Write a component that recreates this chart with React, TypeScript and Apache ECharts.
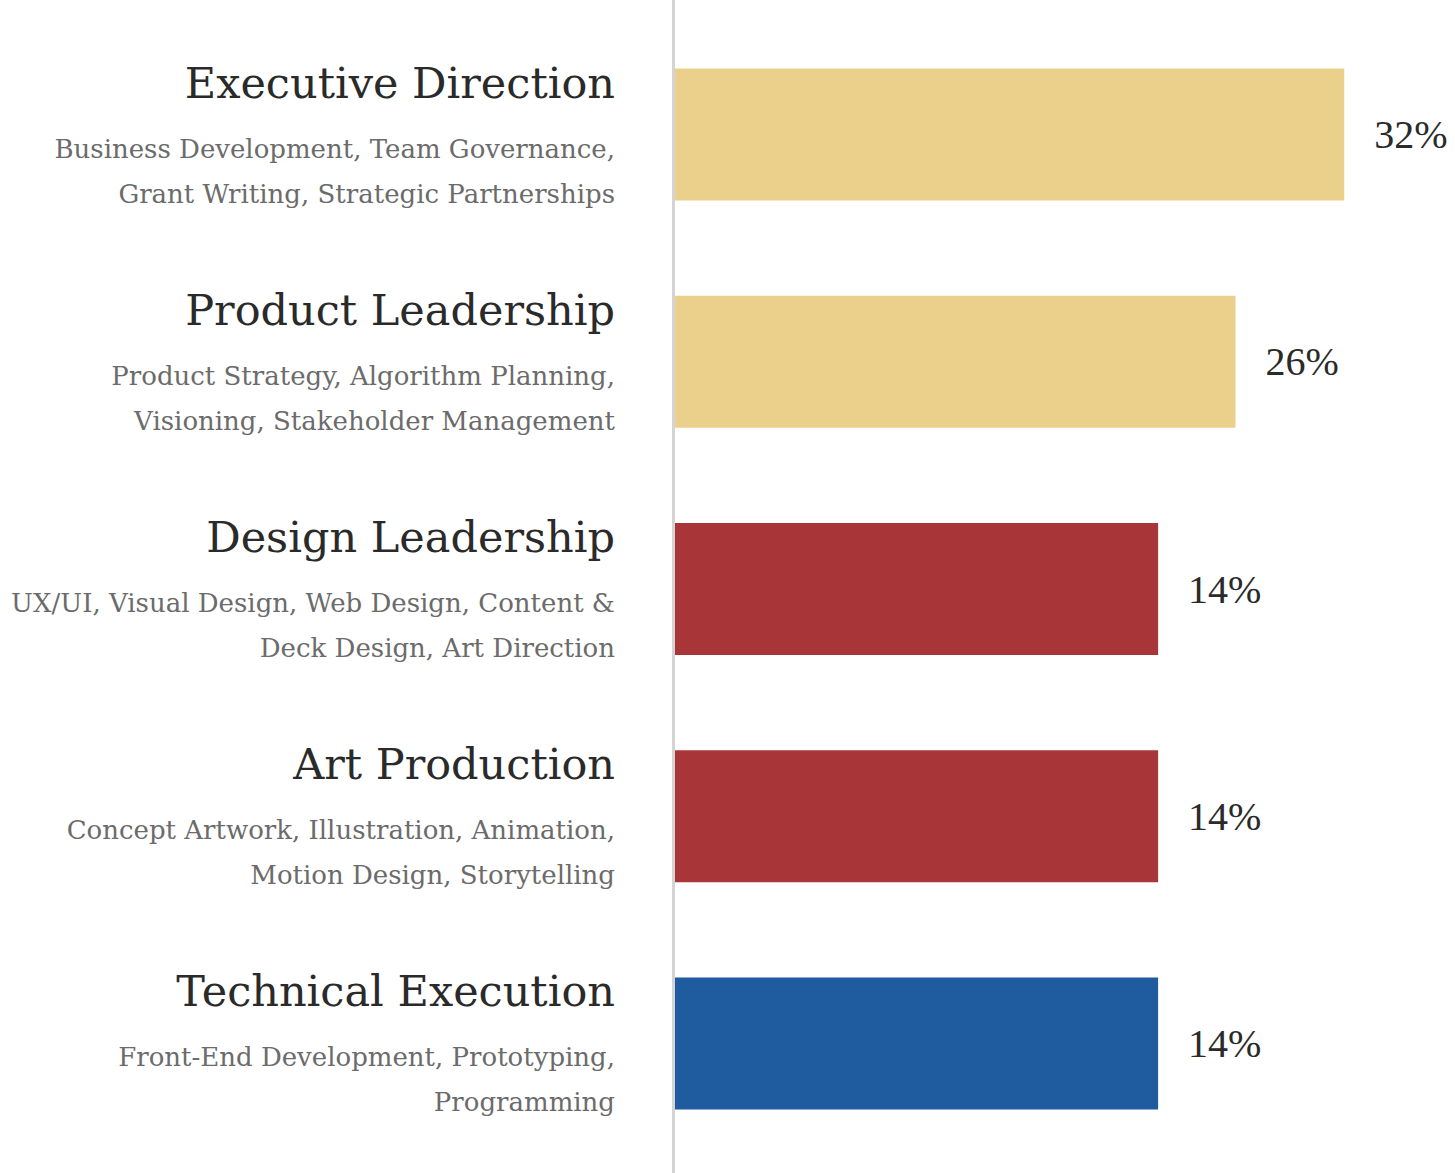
import React, { useEffect, useRef } from "react";
import * as echarts from "echarts";

const categories = [
  "Executive Direction",
  "Product Leadership",
  "Design Leadership",
  "Art Production",
  "Technical Execution",
];
const subtitles = [
  ["Business Development, Team Governance,", "Grant Writing, Strategic Partnerships"],
  ["Product Strategy, Algorithm Planning,", "Visioning, Stakeholder Management"],
  ["UX/UI, Visual Design, Web Design, Content &", "Deck Design, Art Direction"],
  ["Concept Artwork, Illustration, Animation,", "Motion Design, Storytelling"],
  ["Front-End Development, Prototyping,", "Programming"],
];
const barValues = [32, 26.8, 23.1, 23.1, 23.1];
const percentLabels = ["32%", "26%", "14%", "14%", "14%"];
const barColors = ["#EAD08A", "#EAD08A", "#A83537", "#A83537", "#1F5B9F"];

const FONT = "'DejaVu Serif', 'Liberation Serif', serif";
const VFONT = "'Liberation Serif', serif";

export default function App() {
  const ref = useRef<HTMLDivElement>(null);
  useEffect(() => {
    document.body.style.margin = "0";
    const chart = echarts.init(ref.current!, null, { renderer: "svg" });
    chart.setOption({
      animation: false,
      grid: { left: 675, right: 48, top: 21, bottom: 16, containLabel: false },
      xAxis: {
        type: "value",
        min: 0,
        max: 35,
        show: false,
      },
      yAxis: {
        type: "category",
        inverse: true,
        data: categories,
        axisLine: { show: false },
        axisTick: { show: false },
        axisLabel: {
          margin: 60,
          align: "right",
          padding: [0, 0, 14, 0],
          formatter: (v: string, i: number) =>
            `{t|${v}}\n{s|${subtitles[i][0]}}\n{s|${subtitles[i][1]}}`,
          rich: {
            t: { fontFamily: FONT, fontSize: 43, color: "#2a2a2a", lineHeight: 87, align: "right" },
            s: { fontFamily: FONT, fontSize: 26, color: "#6b6b6b", lineHeight: 45, align: "right" },
          },
        },
      },
      series: [
        {
          type: "bar",
          barWidth: 132,
          data: barValues.map((v, i) => ({ value: v, itemStyle: { color: barColors[i] } })),
          label: {
            show: true,
            position: "right",
            distance: 30,
            fontFamily: VFONT,
            fontSize: 40,
            color: "#2a2a2a",
            formatter: (p: any) => percentLabels[p.dataIndex],
          },
        },
      ],
      graphic: [
        {
          type: "line",
          shape: { x1: 673.5, y1: 0, x2: 673.5, y2: 1173 },
          style: { stroke: "#d4d4d4", lineWidth: 3 },
          z: 10,
        },
      ],
    });
    return () => chart.dispose();
  }, []);
  return <div ref={ref} style={{ width: 1455, height: 1173 }} />;
}
